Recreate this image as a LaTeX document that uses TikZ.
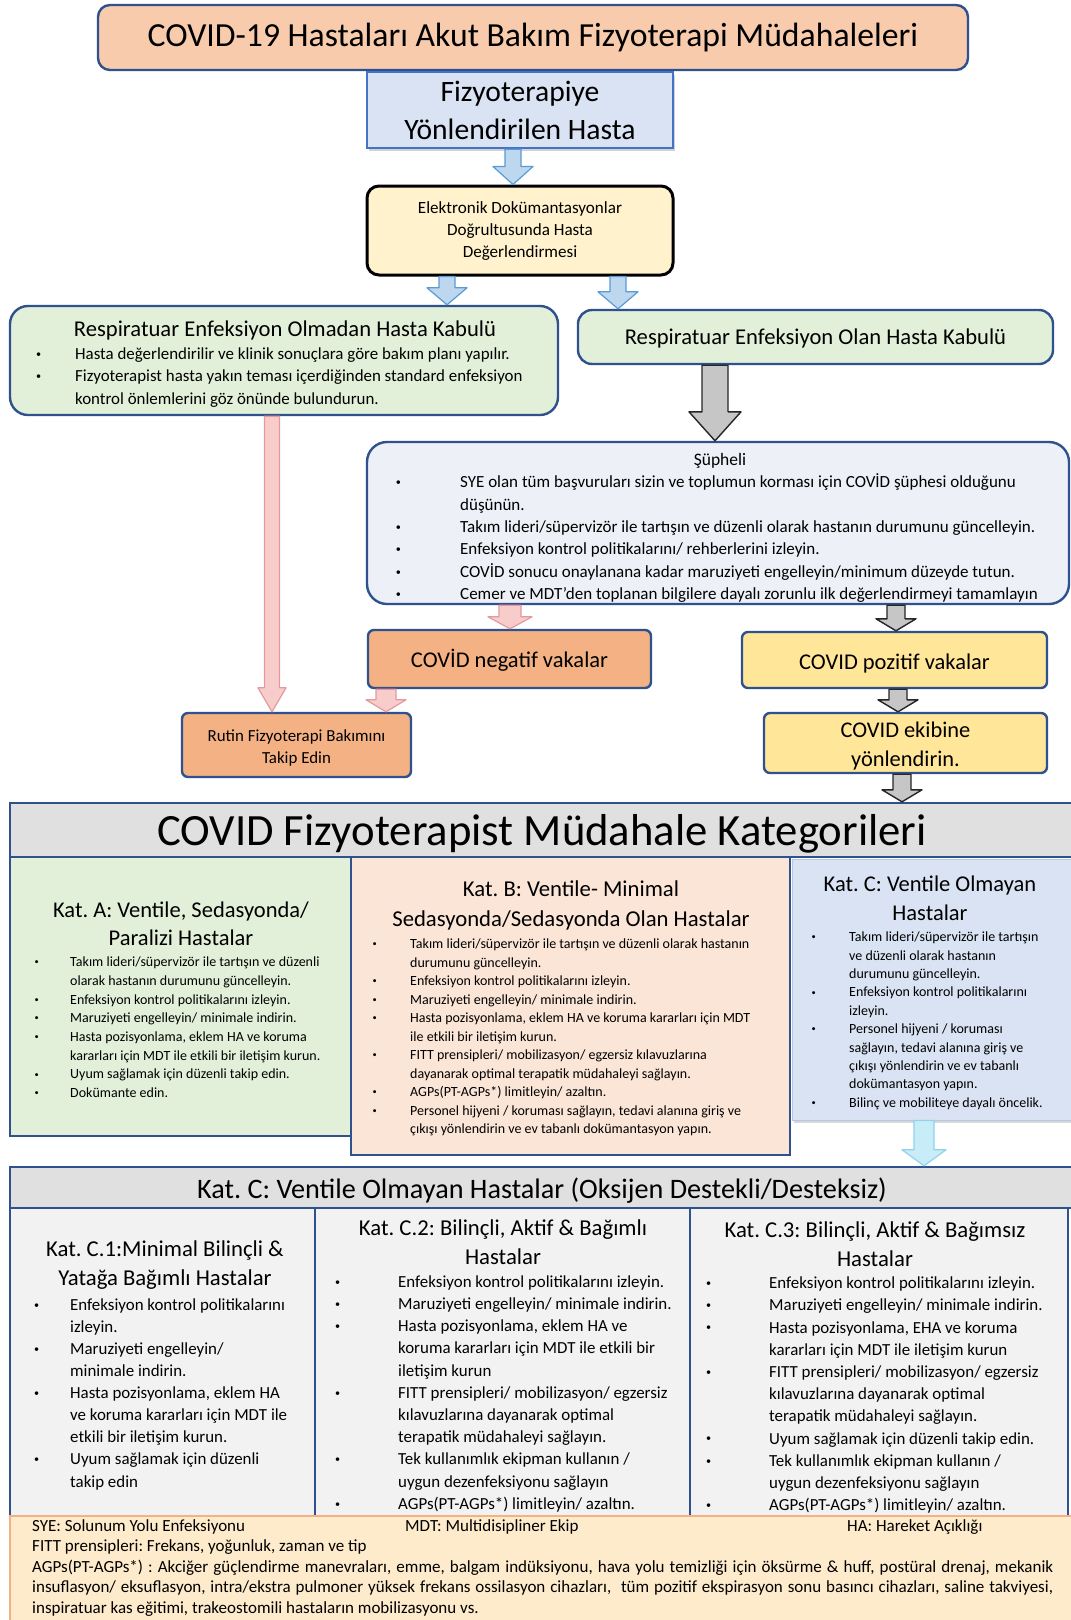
\documentclass[tikz,border=0pt]{standalone}
\usepackage{fontspec}
\usepackage{graphicx}
\setmainfont{Carlito}
\frenchspacing
\usetikzlibrary{calc,shadows}
\definecolor{dblue}{HTML}{2F528F}
\definecolor{fizblue}{HTML}{4472C4}
\definecolor{peach}{HTML}{F8CBAD}
\definecolor{lightblue}{HTML}{DAE3F3}
\definecolor{lightyellow}{HTML}{FFF2CC}
\definecolor{lightgreen}{HTML}{E2F0D9}
\definecolor{lavender}{HTML}{EEF0F7}
\definecolor{orangef}{HTML}{F4B183}
\definecolor{yellowf}{HTML}{FFE699}
\definecolor{grayf}{HTML}{E0E0E0}
\definecolor{katb}{HTML}{FBE5D6}
\definecolor{katcb}{HTML}{B4C7E7}
\definecolor{cgray}{HTML}{F2F2F2}
\definecolor{footf}{HTML}{FEEBCB}
\definecolor{footb}{HTML}{F4B183}
\definecolor{arrowblue}{HTML}{5B9BD5}
\definecolor{arrowbluefill}{HTML}{BDD7EE}
\definecolor{pinkline}{HTML}{E39A9A}
\definecolor{pinkfill}{HTML}{F9CCCC}
\definecolor{cyanline}{HTML}{8FD3EA}
\definecolor{cyanfill}{HTML}{C9EDF8}
\newcommand\fsz[2]{\fontsize{#1}{#2}\selectfont}
\newlength\bulw
\newcommand\bul{\makebox[\bulw][l]{\hspace*{0.1em}\raisebox{0.13em}{\scalebox{0.6}{•}}}}
\newcommand\cnt{\hspace*{\bulw}}
\newcommand\blockarrow[6]{\draw[#1] let \p1=(#2), \p2=(#3) in (\x1-#4pt,\y1) -- (\x1+#4pt,\y1) -- (\x1+#4pt,\y2+#6pt) -- (\x1+#5pt,\y2+#6pt) -- (\x1,\y2) -- (\x1-#5pt,\y2+#6pt) -- (\x1-#4pt,\y2+#6pt) -- cycle;}
\begin{document}
\begin{tikzpicture}[x=1pt,y=-1pt,
  box/.style={draw=dblue,line width=2.4pt,inner sep=0pt,align=center},
  lst/.style={anchor=north west,inner sep=0pt,align=left},
  ttl/.style={inner sep=0pt,align=center},
  arblue/.style={draw=arrowblue,fill=arrowbluefill,line width=1.2pt,line join=round},
  argray/.style={draw=gray!30!black,fill=gray!45,line width=1.4pt,line join=round},
  arpink/.style={draw=pinkline,fill=pinkfill,line width=1.2pt,line join=round},
  arcyan/.style={draw=cyanline,fill=cyanfill,line width=1.2pt,line join=round}]
\useasboundingbox (0,0) rectangle (1071,1620);
\clip (0,0) rectangle (1071,1620);
\fill[white] (0,0) rectangle (1071,1620);

% top flow
\node[box,fill=peach,rounded corners=12pt,minimum width=870pt,minimum height=65pt,font=\fsz{33.7}{40}] (title) at (533,37.5) {COVID-19 Hastaları Akut Bakım Fizyoterapi Müdahaleleri};

\node[box,draw=fizblue,fill=lightblue,minimum width=306pt,minimum height=76pt,font=\fsz{29.6}{38},drop shadow={shadow xshift=2pt,shadow yshift=-3pt,opacity=.35}] (fizyo) at (520,110) {Fizyoterapiye\\Yönlendirilen Hasta};

\node[box,draw=black,line width=3pt,fill=lightyellow,rounded corners=12pt,minimum width=306pt,minimum height=89pt] (elek) at (520,230.5) {};
\node[ttl,font=\fsz{17.1}{22}] (elekt) at (520,231.5) {Elektronik Dokümantasyonlar\\Doğrultusunda Hasta\\Değerlendirmesi};

\node[box,fill=lightgreen,rounded corners=18pt,minimum width=548pt,minimum height=109pt] (leftg) at (284,360.5) {};
\node[ttl,anchor=base,font=\fsz{22.6}{27}] (leftgt) at (285,336.3) {Respiratuar Enfeksiyon Olmadan Hasta Kabulü};
\setlength\bulw{40.7pt}
\node[lst,font=\fsz{16.9}{22.5},yshift=15.75pt] (leftgl) at (34.3,359.2) {\strut\bul Hasta değerlendirilir ve klinik sonuçlara göre bakım planı yapılır.\\
\bul Fizyoterapist hasta yakın teması içerdiğinden standard enfeksiyon\\
\cnt kontrol önlemlerini göz önünde bulundurun.};

\node[box,fill=lightgreen,rounded corners=14pt,minimum width=475pt,minimum height=54pt] (rightg) at (815.5,337) {};
\node[ttl,font=\fsz{22.6}{27}] (rightgt) at (815.5,338) {Respiratuar Enfeksiyon Olan Hasta Kabulü};

\node[box,fill=lavender,rounded corners=20pt,minimum width=702pt,minimum height=162pt] (sup) at (718,523) {};
\node[ttl,anchor=base,font=\fsz{17.5}{22}] (supt) at (720,465) {Şüpheli};
\setlength\bulw{66pt}
\node[lst,font=\fsz{17}{22.4},yshift=15.68pt] (supl) at (394,487.5) {\strut\bul SYE olan tüm başvuruları sizin ve toplumun korması için COVİD şüphesi olduğunu\\
\cnt düşünün.\\
\bul Takım lideri/süpervizör ile tartışın ve düzenli olarak hastanın durumunu güncelleyin.\\
\bul Enfeksiyon kontrol politikalarını/ rehberlerini izleyin.\\
\bul COVİD sonucu onaylanana kadar maruziyeti engelleyin/minimum düzeyde tutun.\\
\bul Cemer ve MDT'den toplanan bilgilere dayalı zorunlu ilk değerlendirmeyi tamamlayın};

\node[box,fill=orangef,rounded corners=6pt,minimum width=283pt,minimum height=58pt] (neg) at (509.5,659) {};
\node[ttl,font=\fsz{22.5}{27}] (negt) at (509.5,660.5) {COVİD negatif vakalar};
\node[box,fill=yellowf,rounded corners=6pt,minimum width=305pt,minimum height=56pt] (poz) at (894.5,660) {};
\node[ttl,font=\fsz{22.5}{27}] (pozt) at (894.5,663) {COVID pozitif vakalar};
\node[box,fill=orangef,rounded corners=6pt,minimum width=229pt,minimum height=64pt] (rutin) at (296.5,745) {};
\node[ttl,font=\fsz{16.9}{22}] (rutint) at (296.5,748) {Rutin Fizyoterapi Bakımını\\Takip Edin};
\node[box,fill=yellowf,rounded corners=6pt,minimum width=283pt,minimum height=60pt] (ekip) at (905.5,743) {};
\node[ttl,font=\fsz{22.4}{29}] (ekipt) at (905.5,746) {COVID ekibine\\yönlendirin.};

% categories
\node[box,fill=lightgreen,minimum width=341pt,minimum height=279pt] (kata) at (180.5,996.5) {};
\node[box,fill=katb,minimum width=439pt,minimum height=298pt] (katb) at (570.5,1006) {};
\node[box,draw=katcb,line width=1pt,fill=lightblue,minimum width=283pt,minimum height=261pt,drop shadow={shadow xshift=2pt,shadow yshift=-3pt,opacity=.3}] (katc) at (933.5,989.5) {};
\node[box,fill=grayf,minimum width=1070pt,minimum height=54pt] (cath) at (545,830) {};
\node[ttl,font=\fsz{44.7}{50}] (catht) at (542,834) {COVID Fizyoterapist Müdahale Kategorileri};

\node[ttl,font=\fsz{22.5}{28}] (katat) at (181,924) {Kat. A: Ventile, Sedasyonda/\\Paralizi Hastalar};
\setlength\bulw{37pt}
\node[lst,font=\fsz{14}{18.7},yshift=13.09pt] (katal) at (33,966.5) {\strut\bul Takım lideri/süpervizör ile tartışın ve düzenli\\
\cnt olarak hastanın durumunu güncelleyin.\\
\bul Enfeksiyon kontrol politikalarını izleyin.\\
\bul Maruziyeti engelleyin/ minimale indirin.\\
\bul Hasta pozisyonlama, eklem HA ve koruma\\
\cnt kararları için MDT ile etkili bir iletişim kurun.\\
\bul Uyum sağlamak için düzenli takip edin.\\
\bul Dokümante edin.};

\node[ttl,font=\fsz{22.7}{30}] (katbt) at (571,905) {Kat. B: Ventile- Minimal\\Sedasyonda/Sedasyonda Olan Hastalar};
\setlength\bulw{39pt}
\node[lst,font=\fsz{14}{18.5},yshift=12.95pt] (katbl) at (371,948.5) {\strut\bul Takım lideri/süpervizör ile tartışın ve düzenli olarak hastanın\\
\cnt durumunu güncelleyin.\\
\bul Enfeksiyon kontrol politikalarını izleyin.\\
\bul Maruziyeti engelleyin/ minimale indirin.\\
\bul Hasta pozisyonlama, eklem HA ve koruma kararları için MDT\\
\cnt ile etkili bir iletişim kurun.\\
\bul FITT prensipleri/ mobilizasyon/ egzersiz kılavuzlarına\\
\cnt dayanarak optimal terapatik müdahaleyi sağlayın.\\
\bul AGPs(PT-AGPs*) limitleyin/ azaltın.\\
\bul Personel hijyeni / koruması sağlayın, tedavi alanına giriş ve\\
\cnt çıkışı yönlendirin ve ev tabanlı dokümantasyon yapın.};

\node[ttl,font=\fsz{22.5}{29}] (katct) at (930,898.5) {Kat. C: Ventile Olmayan\\Hastalar};
\setlength\bulw{39pt}
\node[lst,font=\fsz{14}{18.4},yshift=12.88pt] (katcl) at (810,941.5) {\strut\bul Takım lideri/süpervizör ile tartışın\\
\cnt ve düzenli olarak hastanın\\
\cnt durumunu güncelleyin.\\
\bul Enfeksiyon kontrol politikalarını\\
\cnt izleyin.\\
\bul Personel hijyeni / koruması\\
\cnt sağlayın, tedavi alanına giriş ve\\
\cnt çıkışı yönlendirin ve ev tabanlı\\
\cnt dokümantasyon yapın.\\
\bul Bilinç ve mobiliteye dayalı öncelik.};

% section C
\node[box,fill=cgray,minimum width=305pt,minimum height=308pt] (c1) at (162.5,1362) {};
\node[box,fill=cgray,minimum width=375pt,minimum height=308pt] (c2) at (502.5,1362) {};
\node[box,fill=cgray,minimum width=378pt,minimum height=308pt] (c3) at (879,1362) {};
\node[box,fill=grayf,minimum width=1070pt,minimum height=41pt] (secc) at (545,1187.5) {};
\node[ttl,font=\fsz{28.2}{32}] (secct) at (542,1191) {Kat. C: Ventile Olmayan Hastalar (Oksijen Destekli/Desteksiz)};

\node[ttl,font=\fsz{22.7}{29}] (c1t) at (165,1265.5) {Kat. C.1:Minimal Bilinçli \&\\Yatağa Bağımlı Hastalar};
\setlength\bulw{37.7pt}
\node[lst,font=\fsz{16.9}{22.1},yshift=15.47pt] (c1l) at (32.3,1310) {\strut\bul Enfeksiyon kontrol politikalarını\\
\cnt izleyin.\\
\bul Maruziyeti engelleyin/\\
\cnt minimale indirin.\\
\bul Hasta pozisyonlama, eklem HA\\
\cnt ve koruma kararları için MDT ile\\
\cnt etkili bir iletişim kurun.\\
\bul Uyum sağlamak için düzenli\\
\cnt takip edin};

\node[ttl,font=\fsz{22.7}{29}] (c2t) at (503,1242.5) {Kat. C.2: Bilinçli, Aktif \& Bağımlı\\Hastalar};
\setlength\bulw{64.7pt}
\node[lst,font=\fsz{16.9}{22.2},yshift=15.54pt] (c2l) at (333.3,1287) {\strut\bul Enfeksiyon kontrol politikalarını izleyin.\\
\bul Maruziyeti engelleyin/ minimale indirin.\\
\bul Hasta pozisyonlama, eklem HA ve\\
\cnt koruma kararları için MDT ile etkili bir\\
\cnt iletişim kurun\\
\bul FITT prensipleri/ mobilizasyon/ egzersiz\\
\cnt kılavuzlarına dayanarak optimal\\
\cnt terapatik müdahaleyi sağlayın.\\
\bul Tek kullanımlık ekipman kullanın /\\
\cnt uygun dezenfeksiyonu sağlayın\\
\bul AGPs(PT-AGPs*) limitleyin/ azaltın.};

\node[ttl,font=\fsz{22.7}{29}] (c3t) at (875,1244.5) {Kat. C.3: Bilinçli, Aktif \& Bağımsız\\Hastalar};
\node[lst,font=\fsz{16.9}{22.2},yshift=15.54pt] (c3l) at (704.3,1288.5) {\strut\bul Enfeksiyon kontrol politikalarını izleyin.\\
\bul Maruziyeti engelleyin/ minimale indirin.\\
\bul Hasta pozisyonlama, EHA ve koruma\\
\cnt kararları için MDT ile iletişim kurun\\
\bul FITT prensipleri/ mobilizasyon/ egzersiz\\
\cnt kılavuzlarına dayanarak optimal\\
\cnt terapatik müdahaleyi sağlayın.\\
\bul Uyum sağlamak için düzenli takip edin.\\
\bul Tek kullanımlık ekipman kullanın /\\
\cnt uygun dezenfeksiyonu sağlayın\\
\bul AGPs(PT-AGPs*) limitleyin/ azaltın.};

% footer
\node[draw=footb,line width=1.5pt,fill=footf,minimum width=1070pt,minimum height=114pt,inner sep=0pt] (foot) at (545,1573) {};
\node[anchor=base west,inner sep=0pt,font=\fsz{17}{20.6}] (f1) at (32,1531) {SYE: Solunum Yolu Enfeksiyonu};
\node[anchor=base west,inner sep=0pt,font=\fsz{17}{20.6}] (f2) at (405,1531) {MDT: Multidisipliner Ekip};
\node[anchor=base west,inner sep=0pt,font=\fsz{17}{20.6}] (f3) at (847,1531) {HA: Hareket Açıklığı};
\node[lst,font=\fsz{17}{20.6},yshift=14.42pt] (f4) at (32,1551.3) {\strut FITT prensipleri: Frekans, yoğunluk, zaman ve tip\\
\makebox[1021pt][s]{AGPs(PT-AGPs*) : Akciğer güçlendirme manevraları, emme, balgam indüksiyonu, hava yolu temizliği için öksürme \& huff, postüral drenaj, mekanik}\\
\makebox[1021pt][s]{insuflasyon/ eksuflasyon, intra/ekstra pulmoner yüksek frekans ossilasyon cihazları,\ \ tüm pozitif ekspirasyon sonu basıncı cihazları, saline takviyesi,}\\
inspiratuar kas eğitimi, trakeostomili hastaların mobilizasyonu vs.};

% block arrows
\blockarrow{arblue}{$(fizyo.south)+(-7,0)$}{elek.north}{8}{20}{18}
\blockarrow{arblue}{$(elek.south)+(-73,0)$}{leftg.north}{8}{20}{17}
\blockarrow{arblue}{$(elek.south)+(98,0)$}{rightg.north}{8}{20}{17}
\blockarrow{argray}{$(rightg.south)+(-100.5,0)$}{sup.north}{13}{26}{29}
\blockarrow{arpink}{$(leftg.south)+(-12,0)$}{rutin.north}{7.5}{14}{24}
\blockarrow{arpink}{$(sup.south)+(-208,0)$}{neg.north}{11}{22}{12}
\blockarrow{argray}{$(sup.south)+(178,0)$}{poz.north}{9}{20}{12}
\blockarrow{arpink}{$(neg.south)+(-123.5,0)$}{rutin.north}{10}{20}{12}
\blockarrow{argray}{$(poz.south)+(3.5,0)$}{ekip.north}{9}{20}{12}
\blockarrow{argray}{$(ekip.south)+(-3.5,0)$}{cath.north}{9}{20}{12}
\blockarrow{arcyan}{$(katc.south)+(-9.5,0)$}{secc.north}{10}{22}{16}
\end{tikzpicture}
\end{document}
